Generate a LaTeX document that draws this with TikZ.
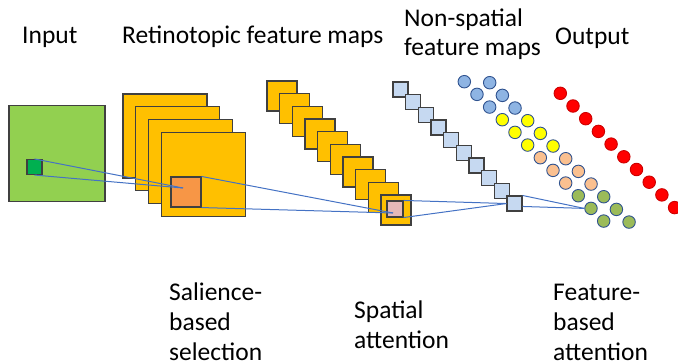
\documentclass[tikz,border=0pt]{standalone}
\usepackage{fontspec}
\setmainfont{Carlito}
\usetikzlibrary{calc}
\definecolor{inputgreen}{HTML}{92D050}
\definecolor{spotgreen}{HTML}{00B050}
\definecolor{mapyellow}{HTML}{FFC000}
\definecolor{salorange}{HTML}{F79646}
\definecolor{attpink}{HTML}{E6B9B8}
\definecolor{nsblue}{HTML}{C6D9F1}
\definecolor{linkblue}{HTML}{4472C4}
\definecolor{dotline}{HTML}{2F528F}
\definecolor{dotblue}{HTML}{8EB4E3}
\definecolor{dotyellow}{HTML}{FFFF00}
\definecolor{dotpeach}{HTML}{FAC090}
\definecolor{dotgreen}{HTML}{9BBB59}
\definecolor{dotred}{HTML}{FF0000}

\begin{document}
\begin{tikzpicture}[x=1pt,y=-1pt,
		box/.style={rectangle,draw=black!75,line width=1.1pt,inner sep=0pt,minimum size=#1},
		dot/.style={circle,draw=dotline,line width=0.9pt,inner sep=0pt,minimum size=12.5pt,fill=#1},
		link/.style={draw=linkblue,line width=1pt},
		lbl/.style={font=\fontsize{25.5}{30}\selectfont,inner sep=0pt,align=left,anchor=base west}]
				\useasboundingbox (0,0) rectangle (678,364);
				
				% input image
				\node[box=96pt,fill=inputgreen] (input) at (57,153.5) {};
				\node[box=15pt,fill=spotgreen] (spot) at (34.5,167) {};
				
				% retinotopic maps
				\foreach \i in {1,...,4}
					\node[box=84pt,fill=mapyellow] (ret\i) at ({165+12.7*(\i-1)},{136+12.7*(\i-1)}) {};
				\node[box=30pt,fill=salorange] (sal) at (186,192) {};
				
				\foreach \i in {1,...,10}
					\node[box=30pt,fill=mapyellow] (fm\i) at ({282+12.67*(\i-1)},{96+12.67*(\i-1)}) {};
				\node[box=16pt,fill=attpink] (att) at (395,209) {};
				
				% non-spatial maps
				\foreach \i in {1,...,10}
					\node[box=15pt,fill=nsblue] (ns\i) at ({400.5+12.67*(\i-1)},{89.5+12.67*(\i-1)}) {};
				
				% output units
				\foreach \n/\c in {1/dotblue,2/dotblue,3/dotblue,4/dotyellow,5/dotyellow,6/dotyellow,
						7/dotpeach,8/dotpeach,9/dotpeach,10/dotgreen,11/dotgreen,12/dotgreen}{
					\node[dot=\c] (ca\n) at ({464.3+12.67*(\n-1)},{81.7+12.67*(\n-1)}) {};
					\node[dot=\c] (cb\n) at ({489.7+12.67*(\n-1)},{82.7+12.67*(\n-1)}) {};}
				\foreach \i in {1,...,10}
					\node[dot=dotred,draw=dotred!80!black] (r\i) at ({560.3+12.7*(\i-1)},{93.3+12.7*(\i-1)}) {};
				
				\coordinate (salhit) at (183,188);
				\coordinate (atthit) at (393,213);
				
				\draw[link] (spot.north) -- (salhit);
				\draw[link] (spot.south) -- (salhit);
				\draw[link] (sal.north east) -- (atthit);
				\draw[link] (sal.south east) -- (atthit);
				\draw[link] (att.north east) -- (ns10.west);
				\draw[link] (att.south east) -- (ns10.west);
				\draw[link] (ns10.north east) -- (ca11.west);
				\draw[link] (ns10.-20) -- (ca11.west);
				
				% labels (base = last line)
				\node[lbl] (inlabel) at (22,43) {Input};
				\node[lbl] (retlabel) at (122,43) {Retinotopic feature maps};
				\node[lbl] (nslabel) at (404,56) {Non-spatial\\feature maps};
				\node[lbl] (outlabel) at (555,44) {Output};
				\node[lbl] (sallabel) at (169,360) {Salience-\\based\\selection};
				\node[lbl] (attlabel) at (354,348) {Spatial\\attention};
				\node[lbl] (fblabel) at (553,360) {Feature-\\based\\attention};
\end{tikzpicture}
\end{document}
